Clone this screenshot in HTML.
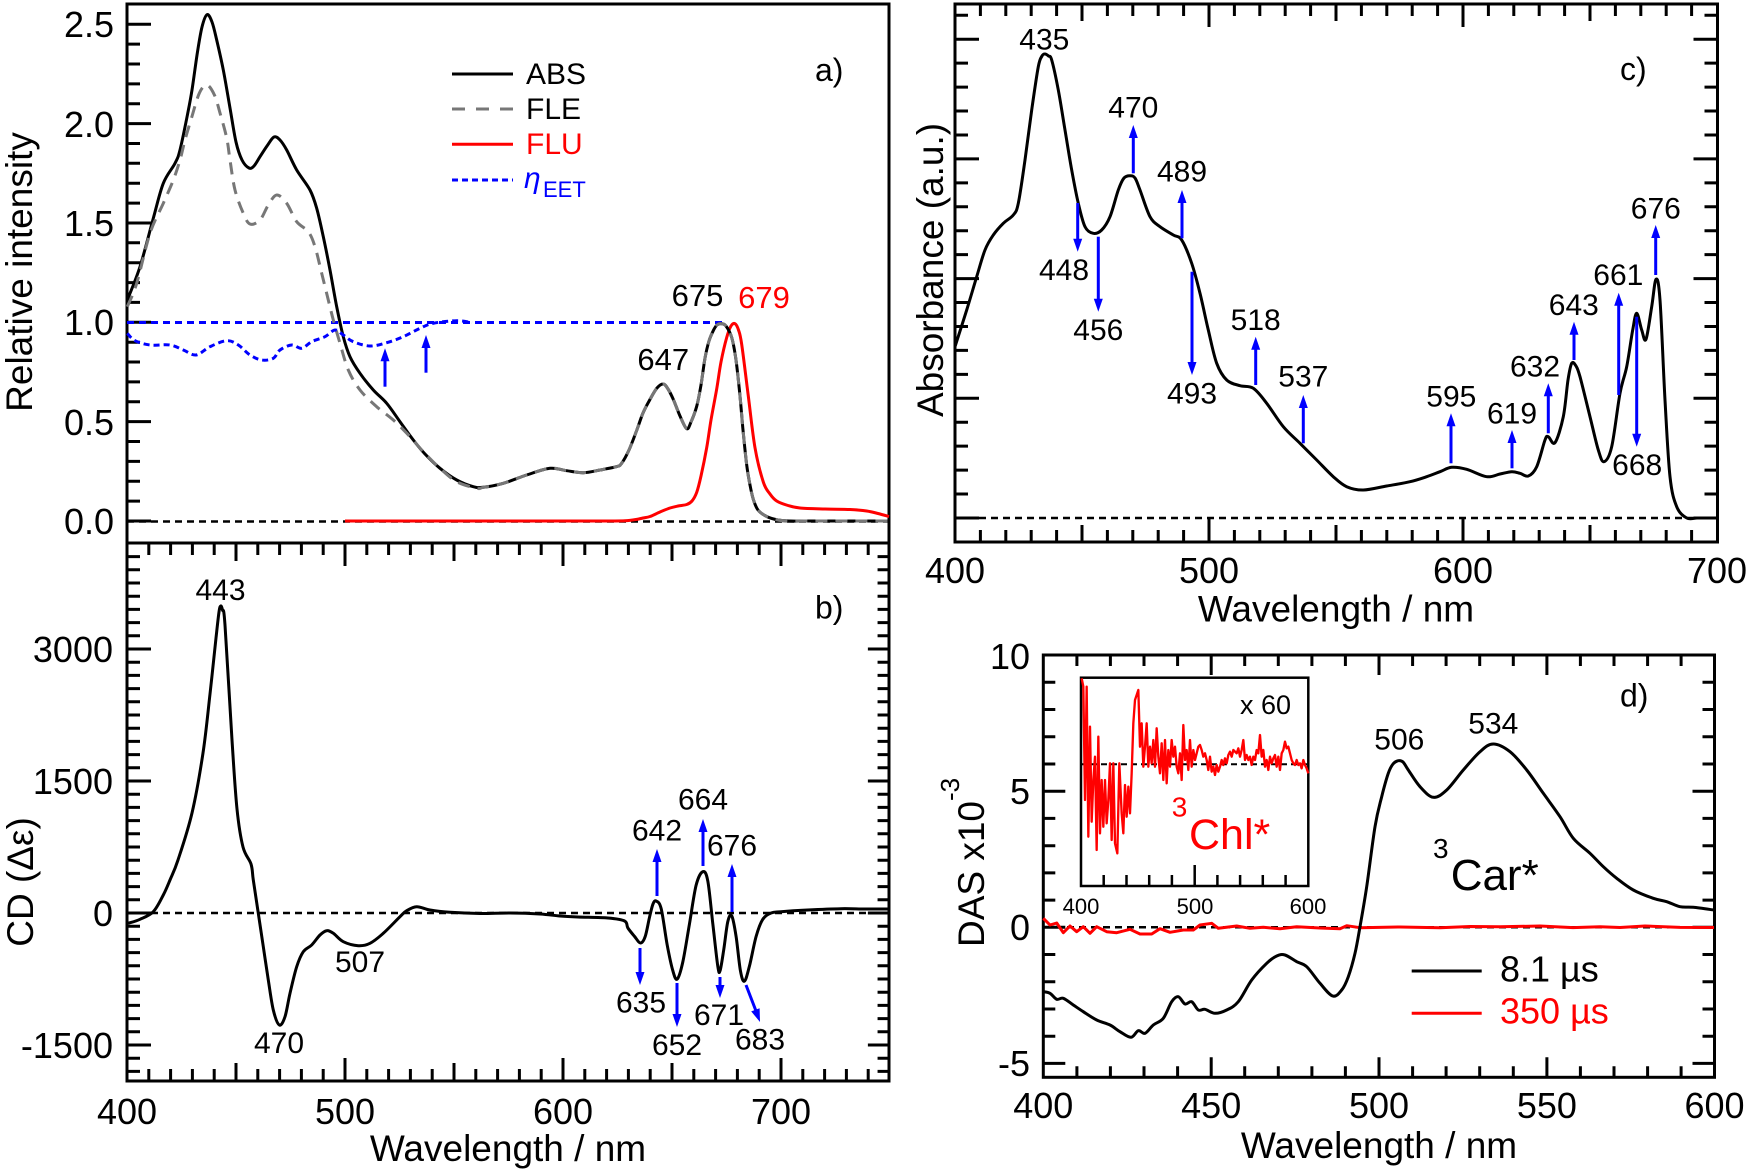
<!DOCTYPE html>
<html><head><meta charset="utf-8"><style>
html,body{margin:0;padding:0;background:#fff;}
svg{display:block;}
text{font-family:"Liberation Sans",Arial,sans-serif;fill:#000;}
</style></head><body>
<svg id="fig" width="1750" height="1171" viewBox="0 0 1750 1171" xmlns="http://www.w3.org/2000/svg">
<rect width="1750" height="1171" fill="#fff"/>
<defs>
<path id="ay" d="M0 521h24 M0 501.1h13 M0 481.3h13 M0 461.4h13 M0 441.5h13 M0 421.65h24 M0 401.8h13 M0 381.9h13 M0 362h13 M0 342.2h13 M0 322.3h24 M0 302.4h13 M0 282.6h13 M0 262.7h13 M0 242.8h13 M0 222.95h24 M0 203.1h13 M0 183.2h13 M0 163.3h13 M0 143.5h13 M0 123.6h24 M0 103.7h13 M0 83.9h13 M0 64h13 M0 44.1h13 M0 24.25h24"/>
<path id="by" d="M0 1071.4h13 M0 1058.2h13 M0 1045h24 M0 1031.8h13 M0 1018.6h13 M0 1005.4h13 M0 992.2h13 M0 979h13 M0 965.8h13 M0 952.6h13 M0 939.4h13 M0 926.2h13 M0 913h24 M0 899.8h13 M0 886.6h13 M0 873.4h13 M0 860.2h13 M0 847h13 M0 833.8h13 M0 820.6h13 M0 807.4h13 M0 794.2h13 M0 781h24 M0 767.8h13 M0 754.6h13 M0 741.4h13 M0 728.2h13 M0 715h13 M0 701.8h13 M0 688.6h13 M0 675.4h13 M0 662.2h13 M0 649h24 M0 635.8h13 M0 622.6h13 M0 609.4h13 M0 596.2h13 M0 583h13 M0 569.8h13 M0 556.6h13"/>
<path id="bx" d="M148.8 0v-12 M170.6 0v-12 M192.4 0v-12 M214.2 0v-12 M236 0v-18 M257.8 0v-12 M279.6 0v-12 M301.4 0v-12 M323.2 0v-12 M345 0v-23 M366.8 0v-12 M388.6 0v-12 M410.4 0v-12 M432.2 0v-12 M454 0v-18 M475.8 0v-12 M497.6 0v-12 M519.4 0v-12 M541.2 0v-12 M563 0v-23 M584.8 0v-12 M606.6 0v-12 M628.4 0v-12 M650.2 0v-12 M672 0v-18 M693.8 0v-12 M715.6 0v-12 M737.4 0v-12 M759.2 0v-12 M781 0v-23 M802.8 0v-12 M824.6 0v-12 M846.4 0v-12 M868.2 0v-12"/>
<path id="cx" d="M980.4 0v-12 M1005.8 0v-12 M1031.2 0v-12 M1056.6 0v-12 M1082 0v-17 M1107.4 0v-12 M1132.8 0v-12 M1158.2 0v-12 M1183.6 0v-12 M1209 0v-23 M1234.4 0v-12 M1259.8 0v-12 M1285.2 0v-12 M1310.6 0v-12 M1336 0v-17 M1361.4 0v-12 M1386.8 0v-12 M1412.2 0v-12 M1437.6 0v-12 M1463 0v-23 M1488.4 0v-12 M1513.8 0v-12 M1539.2 0v-12 M1564.6 0v-12 M1590 0v-17 M1615.4 0v-12 M1640.8 0v-12 M1666.2 0v-12 M1691.6 0v-12"/>
<path id="cy" d="M0 518h24 M0 494.06h13 M0 470.12h13 M0 446.18h13 M0 422.24h13 M0 398.3h24 M0 374.36h13 M0 350.42h13 M0 326.48h13 M0 302.54h13 M0 278.6h24 M0 254.66h13 M0 230.72h13 M0 206.78h13 M0 182.84h13 M0 158.9h24 M0 134.96h13 M0 111.02h13 M0 87.08h13 M0 63.14h13 M0 39.2h24 M0 15.26h13"/>
<path id="dx" d="M1076.9 0v-11 M1110.4 0v-11 M1144 0v-11 M1177.6 0v-11 M1211.2 0v-20 M1244.7 0v-11 M1278.3 0v-11 M1311.9 0v-11 M1345.4 0v-11 M1379 0v-20 M1412.6 0v-11 M1446.1 0v-11 M1479.7 0v-11 M1513.3 0v-11 M1546.9 0v-20 M1580.4 0v-11 M1614 0v-11 M1647.6 0v-11 M1681.1 0v-11"/>
<path id="dy" d="M0 1063.4h22 M0 1036.2h12 M0 1009h12 M0 981.7h12 M0 954.5h12 M0 927.3h22 M0 900.1h12 M0 872.9h12 M0 845.7h12 M0 818.4h12 M0 791.2h22 M0 764h12 M0 736.8h12 M0 709.5h12 M0 682.3h12"/>
</defs>

<!-- ===== Left panels a/b frame & ticks ===== -->
<g stroke="#000" stroke-width="3" fill="none">
<rect x="127" y="4" width="762" height="1077"/>
<line x1="127" y1="543" x2="889" y2="543"/>
<use href="#ay" transform="translate(127,0)"/>
<use href="#by" transform="translate(127,0)"/>
<use href="#by" transform="translate(889,0) scale(-0.88,1)"/>
<use href="#bx" transform="translate(0,1081)"/>
<use href="#bx" transform="translate(0,543) scale(1,-1)"/>
</g>
<g font-size="36" text-anchor="end">
<text x="114" y="534">0.0</text><text x="114" y="435">0.5</text><text x="114" y="335">1.0</text>
<text x="114" y="236">1.5</text><text x="114" y="137">2.0</text><text x="114" y="37">2.5</text>
<text x="113" y="662">3000</text><text x="113" y="794">1500</text><text x="113" y="926">0</text><text x="113" y="1058">-1500</text>
</g>
<g font-size="36" text-anchor="middle">
<text x="127" y="1124">400</text><text x="345" y="1124">500</text><text x="563" y="1124">600</text><text x="781" y="1124">700</text>
</g>
<text x="508" y="1161" font-size="37" text-anchor="middle">Wavelength / nm</text>
<text transform="translate(32,272) rotate(-90)" font-size="37" text-anchor="middle">Relative intensity</text>
<text transform="translate(33,882) rotate(-90)" font-size="37" text-anchor="middle">CD (Δε)</text>

<!-- panel a curves -->
<g fill="none" stroke-linejoin="round" stroke-width="3">
<line x1="127" y1="521.5" x2="889" y2="521.5" stroke="#000" stroke-width="2.5" stroke-dasharray="7 5"/>
<line x1="127" y1="322.5" x2="723" y2="322.5" stroke="#0000ff" stroke-dasharray="7 5"/>
<polyline class="sm" stroke="#ff0000" points="345,521 400,521 460,521 520,521 580,521 610,521 625,520.8 636,519.5 643,518 650,516.5 660,512 670,508 678,506 686.7,504.5 692,501 696.7,492.4 701,476 706.7,447.7 711,420 716.7,389 721,362 726.7,337.5 731,326 735,323.7 738.5,330 741.7,344.4 748.3,396 755,447.7 763.3,482 770,494 776.7,501 788,505.5 800,508 825,509 850,509.5 866.7,511 878,513.5 889,516.5"/>
<polyline class="sm" stroke="#000" points="127.3,300 140,266.7 153.3,218.3 163.3,183.3 175,163.3 180,150 187.6,114 192,90 197.4,52.5 202,27 207,14.7 212,22 216.7,40 223.3,70 230,108 236,142 242,160 249,168 254,166 260,156.7 267,146 274,137 280,140 286.7,150 296.7,170 310,190 316.7,208.3 323.3,236.7 330,270 336.7,306.7 343.3,336.7 350,356.7 360,373.3 373.3,390 386.7,403.3 400,421.7 413.3,440 425,454 440,468.3 456.7,480 473.3,486.7 483.3,487.3 503.3,483.3 526.7,475 550,468.3 566.7,470.7 583.3,472.7 600,470 616.7,466.6 621.7,463.2 629,450 636.7,430.4 643,413 650,399.4 657,388 663.3,384 668,389 673.3,399.4 680,416 686.7,428.7 691,422 696.7,406.3 701,385 705,358.1 709,341 713.3,330.6 717,325 721.7,323.7 726,326 731.7,337.5 736,360 740,396 743,430 746.7,464.9 750,485 753.3,499.3 758,510 766.7,516.5 778,520 790,521 805,521 825,521 845,521 865,521 889,521"/>
<polyline class="sm" stroke="#777" stroke-dasharray="12 8" points="127.3,306.7 136.7,283.3 150,233.3 163.3,203.3 173.3,180 180,160 185,140 191.5,118 199.4,93 207,85 214.6,95.4 220,113 226.7,138 230,160 235,190 243.3,213.3 250,224 260,220 268.3,205 276.7,195 286.7,203.3 296.7,221.7 308.3,231.7 315,246.7 321.7,273.3 328.3,300 333.3,320 340,343.3 348.3,370 360,390 376.7,406.7 393.3,420 410,436.7 423.3,451.7 440,468.3 456.7,481.7 476.7,488.3 483.3,487.3 503.3,483.3 526.7,475 550,468.3 566.7,470.7 583.3,472.7 600,470 616.7,466.6 621.7,463.2 629,450 636.7,430.4 643,413 650,399.4 657,388 663.3,384 668,389 673.3,399.4 680,416 686.7,428.7 691,422 696.7,406.3 701,385 705,358.1 709,341 713.3,330.6 717,325 721.7,323.7 726,326 731.7,337.5 736,360 740,396 743,430 746.7,464.9 750,485 753.3,499.3 758,510 766.7,516.5 778,520 790,521 805,521 825,521 845,521 865,521 889,521"/>
<polyline class="sm" stroke="#0000ff" stroke-dasharray="6 4" points="127.3,333.3 135,340.7 150,345 170,345 183.3,350 196,355 210,346.7 226.7,340.7 238.3,345 250,355 261.7,360 273.3,358.3 280,350 291.7,345 301.7,348.3 311.7,341.7 325,336.7 335,330 343.3,335 353.3,341.7 370,346 386.7,342.7 403.3,336.7 420,328.3 433.3,323.3 456.7,320.7 472,322.7"/>
</g>
<g stroke="#0000ff" stroke-width="3" fill="#0000ff">
<line x1="385" y1="386.7" x2="385" y2="360"/><polygon stroke="none" points="385,348.3 380.5,361.3 389.5,361.3"/>
<line x1="426" y1="372.7" x2="426" y2="347"/><polygon stroke="none" points="426,335 421.5,348 430.5,348"/>
</g>
<!-- legend a -->
<g stroke-width="3" fill="none">
<line x1="452" y1="74" x2="513" y2="74" stroke="#000"/>
<line x1="452" y1="109" x2="513" y2="109" stroke="#777" stroke-dasharray="13 11"/>
<line x1="452" y1="144.3" x2="513" y2="144.3" stroke="#ff0000"/>
<line x1="452" y1="180" x2="513" y2="180" stroke="#0000ff" stroke-dasharray="6 4"/>
</g>
<g font-size="30">
<text x="526" y="84">ABS</text>
<text x="526" y="119">FLE</text>
<text x="526" y="154" style="fill:#ff0000">FLU</text>
<text x="524" y="188" font-style="italic" style="fill:#0000ff">η</text>
<text x="543" y="197" font-size="22" style="fill:#0000ff">EET</text>
<text x="815" y="81" font-size="32">a)</text>
</g>
<g font-size="31" text-anchor="middle">
<text x="663.3" y="370">647</text>
<text x="697.5" y="306">675</text>
<text x="764" y="308" style="fill:#ff0000">679</text>
</g>

<!-- panel b curve -->
<g fill="none" stroke-linejoin="round" stroke-width="3">
<line x1="127" y1="913" x2="889" y2="913" stroke="#000" stroke-width="2.5" stroke-dasharray="7 5"/>
<polyline class="sm" stroke="#000" points="128.3,923.3 140,919.3 153.3,911.7 163.3,895 170,880 178,860 192,813 203,753 210,694 216,638 219,612 220.7,606 222.5,610 225,625 232,740 237,809 243,847 251,864 253.3,880 258.3,913.3 263.3,946.7 268.3,980 273.3,1010 279.3,1025 285,1016.7 290,993.3 296.7,966.7 303.3,951.7 311.7,945 320,935 326.7,930.7 333.3,933.3 343.3,941.7 358.3,945.7 370,943.3 383.3,933.3 400,916.7 406.7,910.7 416.7,906.7 430,910 450,912.3 480,913.5 510,913 540,914 560,916 578,917 608,918 624.6,921 627.9,928 634.6,936.5 640.5,943 645.2,936.5 649.5,917.3 653,904 656.2,901.1 661.2,908.8 667.2,945 672.8,970.6 677.2,979.1 682.8,962 689.5,923.7 696.1,885.3 702.8,871.7 707.8,881 712.8,923.7 717.8,966.3 720.1,970.6 723.8,949.3 727.8,921.6 731.8,916 736.1,936.5 740.4,970.6 744.4,981.2 749.4,966.3 756.1,936.5 762.7,919.4 771.1,913 781,911.7 807.6,910 840.9,908.7 865,909 889,909"/>
</g>
<g stroke="#0000ff" stroke-width="3" fill="#0000ff">
<line x1="657" y1="896" x2="657" y2="861"/><polygon stroke="none" points="657,849 652.5,862 661.5,862"/>
<line x1="703" y1="866" x2="703" y2="831"/><polygon stroke="none" points="703,819 698.5,832 707.5,832"/>
<line x1="732" y1="912" x2="732" y2="876"/><polygon stroke="none" points="732,864 727.5,877 736.5,877"/>
<line x1="640" y1="948" x2="640" y2="973"/><polygon stroke="none" points="640,985 635.5,972 644.5,972"/>
<line x1="677" y1="983" x2="677" y2="1015"/><polygon stroke="none" points="677,1027 672.5,1014 681.5,1014"/>
<line x1="720" y1="977" x2="720" y2="987"/><polygon stroke="none" points="720,998 715.5,985 724.5,985"/>
<line x1="746" y1="985" x2="756" y2="1011"/><polygon stroke="none" points="760,1022 751.2,1011.4 759.6,1008.2"/>
</g>
<g font-size="30" text-anchor="middle">
<text x="220.5" y="600">443</text>
<text x="279" y="1053">470</text>
<text x="360" y="972">507</text>
<text x="657" y="840.6">642</text>
<text x="703" y="809.4">664</text>
<text x="732" y="855.5">676</text>
<text x="641" y="1012.4">635</text>
<text x="677" y="1055">652</text>
<text x="719" y="1025">671</text>
<text x="760" y="1049.4">683</text>
</g>
<text x="815" y="618.3" font-size="32">b)</text>

<!-- ===== Panel c ===== -->
<g stroke="#000" stroke-width="3" fill="none">
<rect x="955" y="4" width="762.5" height="538"/>
<use href="#cx" transform="translate(0,542)"/>
<use href="#cx" transform="translate(0,4) scale(1,-1)"/>
<use href="#cy" transform="translate(955,0)"/>
<use href="#cy" transform="translate(1717.5,0) scale(-1,1)"/>
</g>
<g font-size="36" text-anchor="middle">
<text x="955" y="583">400</text><text x="1209" y="583">500</text><text x="1463" y="583">600</text><text x="1717" y="583">700</text>
</g>
<text x="1336" y="621.7" font-size="37" text-anchor="middle">Wavelength / nm</text>
<text transform="translate(943,270) rotate(-90)" font-size="37" text-anchor="middle">Absorbance (a.u.)</text>
<g fill="none" stroke-linejoin="round" stroke-width="3">
<line x1="955" y1="518" x2="1717" y2="518" stroke="#000" stroke-width="2.5" stroke-dasharray="7 5"/>
<polyline class="sm" stroke="#000" points="955,346.7 966.7,310 976.7,276.7 985,250 993.3,235 1003.3,223.3 1013.3,215 1018.3,203.3 1025,160 1031.7,110 1038.3,66.7 1042,56 1045,54 1048.5,56 1051.7,60 1058.3,90 1065,130 1071.7,170 1078.3,203.3 1085,226.7 1093.3,233.3 1101.7,230 1110,216.7 1118.3,190 1124,178 1130,175.7 1135,178 1140,190 1150,216.7 1160,226.7 1173.3,235 1181.7,240 1191.7,263.3 1200,293.3 1208.3,330 1216.7,363.3 1226.7,380 1240,385.7 1253.3,388.3 1266.7,403.3 1283.3,426.7 1300,443.3 1316.7,460 1333.3,476.7 1346.7,486.7 1363.3,490 1386.7,486 1410,481.7 1426.7,476.7 1440,471.7 1451.7,467.3 1466.7,469.3 1486.7,476.7 1500,474 1511.7,471.7 1520,473.3 1528.3,476 1536.7,466.7 1545,440 1548.3,436.7 1555,442.7 1563.3,416.7 1568,380 1571.7,363.3 1576,366 1580,376.7 1590,416.7 1598.3,450 1604,461.7 1611.7,446.7 1620,393.3 1626.7,366.7 1632.7,330 1636.7,313.3 1641.7,330 1646,339.3 1651.7,306.7 1656,279.3 1660,300 1665,400 1670,476.7 1676.7,506.7 1686.7,518 1697,518 1707,518 1717,518"/>
</g>
<g stroke="#0000ff" stroke-width="3" fill="#0000ff">
<line x1="1077.7" y1="203" x2="1077.7" y2="240"/><polygon stroke="none" points="1077.7,251.7 1073.2,238.7 1082.2,238.7"/>
<line x1="1098.3" y1="236.7" x2="1098.3" y2="300"/><polygon stroke="none" points="1098.3,311.7 1093.8,298.7 1102.8,298.7"/>
<line x1="1133.3" y1="173.3" x2="1133.3" y2="137"/><polygon stroke="none" points="1133.3,125 1128.8,138 1137.8,138"/>
<line x1="1182" y1="238.3" x2="1182" y2="202"/><polygon stroke="none" points="1182,190 1177.5,203 1186.5,203"/>
<line x1="1192" y1="271.7" x2="1192" y2="363"/><polygon stroke="none" points="1192,375 1187.5,362 1196.5,362"/>
<line x1="1255.7" y1="385" x2="1255.7" y2="348.7"/><polygon stroke="none" points="1255.7,336.7 1251.2,349.7 1260.2,349.7"/>
<line x1="1303.3" y1="443.3" x2="1303.3" y2="407"/><polygon stroke="none" points="1303.3,395 1298.8,408 1307.8,408"/>
<line x1="1451" y1="463.3" x2="1451" y2="425.3"/><polygon stroke="none" points="1451,413.3 1446.5,426.3 1455.5,426.3"/>
<line x1="1512" y1="468.3" x2="1512" y2="442"/><polygon stroke="none" points="1512,430 1507.5,443 1516.5,443"/>
<line x1="1548.3" y1="433.3" x2="1548.3" y2="395.3"/><polygon stroke="none" points="1548.3,383.3 1543.8,396.3 1552.8,396.3"/>
<line x1="1574" y1="360" x2="1574" y2="333.7"/><polygon stroke="none" points="1574,321.7 1569.5,334.7 1578.5,334.7"/>
<line x1="1618.7" y1="395" x2="1618.7" y2="304.7"/><polygon stroke="none" points="1618.7,292.7 1614.2,305.7 1623.2,305.7"/>
<line x1="1636.7" y1="316.7" x2="1636.7" y2="434.7"/><polygon stroke="none" points="1636.7,446.7 1632.2,433.7 1641.2,433.7"/>
<line x1="1655.7" y1="275" x2="1655.7" y2="237"/><polygon stroke="none" points="1655.7,225 1651.2,238 1660.2,238"/>
</g>
<g font-size="30" text-anchor="middle">
<text x="1044.3" y="49.3">435</text>
<text x="1133.3" y="117.3">470</text>
<text x="1182" y="181.7">489</text>
<text x="1064" y="280">448</text>
<text x="1098.3" y="340">456</text>
<text x="1192" y="403.3">493</text>
<text x="1255.7" y="330">518</text>
<text x="1303.3" y="386.7">537</text>
<text x="1451.3" y="406.7">595</text>
<text x="1512" y="423.3">619</text>
<text x="1535" y="376.7">632</text>
<text x="1573.8" y="315">643</text>
<text x="1618.3" y="285">661</text>
<text x="1637.2" y="475">668</text>
<text x="1655.8" y="218.3">676</text>
</g>
<text x="1620" y="80" font-size="32">c)</text>

<!-- ===== Panel d ===== -->
<g stroke="#000" stroke-width="3" fill="none">
<rect x="1043.3" y="655" width="671.2" height="422.3"/>
<use href="#dx" transform="translate(0,1077.3)"/>
<use href="#dx" transform="translate(0,655) scale(1,-1)"/>
<use href="#dy" transform="translate(1043.3,0)"/>
<use href="#dy" transform="translate(1714.5,0) scale(-1,1)"/>
</g>
<g font-size="36" text-anchor="end">
<text x="1030" y="669">10</text><text x="1030" y="804">5</text><text x="1030" y="940">0</text><text x="1030" y="1076">-5</text>
</g>
<g font-size="36" text-anchor="middle">
<text x="1043.3" y="1118">400</text><text x="1211.2" y="1118">450</text><text x="1379" y="1118">500</text><text x="1546.9" y="1118">550</text><text x="1714.5" y="1118">600</text>
</g>
<text x="1379" y="1158" font-size="37" text-anchor="middle">Wavelength / nm</text>
<text transform="translate(984,947) rotate(-90)" font-size="37">DAS x10<tspan font-size="26" dy="-25">-3</tspan></text>
<g fill="none" stroke-linejoin="round" stroke-width="3">
<line x1="1043" y1="927.3" x2="1714" y2="927.3" stroke="#000" stroke-width="2.5" stroke-dasharray="7 5"/>
<polyline stroke="#ff0000" points="1043.3,918.3 1050,925 1056.7,923 1063.3,932.7 1070,926 1076.7,931.7 1083.3,926.7 1090,933.3 1096.7,926.7 1106.7,931.7 1116.7,932.7 1130,929.3 1140,934 1151.7,934 1160,928.7 1170,932.3 1183.3,930 1193.3,930 1200,925 1211.7,923.3 1218.3,928.3 1236.7,926 1250,928.3 1263.3,927.3 1280,928.7 1296.7,926.7 1320,928 1340,928.7 1346.7,925.7 1360,927.7 1400,927 1440,927.8 1470,926.5 1500,926.8 1540,926 1573,927.6 1600,926.8 1620,927.5 1645,926 1680,927.4 1714,927.5"/>
<polyline class="sm" stroke="#000" points="1043.3,991.7 1050,993.3 1056.7,999.3 1063.3,998.3 1073.3,1005 1083.3,1011.7 1096.7,1020 1110,1025 1120,1031.7 1131,1037.3 1138.3,1030.7 1145,1033.3 1153.3,1025 1163.3,1018.3 1171.7,1001.7 1178.3,996.7 1185,1004 1191.7,1001.7 1198.3,1010 1205,1009.3 1215,1013.3 1226.7,1010 1238.3,1001.7 1251.7,980 1266.7,963.3 1276.7,956 1285,955 1296.7,961.7 1306.7,966.7 1320,983.3 1332.7,996 1341.7,990 1348.3,976.7 1355,953.3 1360,926.7 1366.7,886.7 1375,826.7 1381.7,796.7 1388.3,773.3 1393,764 1398.3,760.7 1403,762 1408.3,770 1420,786.7 1433.3,797.3 1446.7,790 1463.3,770 1480,751.7 1493.3,744 1510,751.7 1526.7,770 1543.3,793.3 1560,816.7 1573.3,838.3 1590,853.3 1603.3,866.7 1616.7,878.3 1633.3,890 1653.3,898.3 1666.7,901.7 1680,906.7 1693.3,907.3 1714,910"/>
</g>
<!-- legend d -->
<line x1="1411.7" y1="971" x2="1481.7" y2="971" stroke="#000" stroke-width="3"/>
<line x1="1411.7" y1="1013.3" x2="1481.7" y2="1013.3" stroke="#ff0000" stroke-width="3"/>
<text x="1500" y="981.7" font-size="36">8.1 µs</text>
<text x="1500" y="1023.3" font-size="36" style="fill:#ff0000">350 µs</text>
<g font-size="30" text-anchor="middle">
<text x="1399.3" y="749.3">506</text>
<text x="1493.3" y="733.3">534</text>
</g>
<text x="1433" y="858" font-size="28">3</text>
<text x="1450.7" y="890" font-size="44">Car*</text>
<text x="1620" y="706.7" font-size="32">d)</text>

<!-- inset -->
<rect x="1081" y="677.7" width="227.3" height="208.3" fill="#fff" stroke="#000" stroke-width="2.5"/>
<path d="M1103.7 886v-11 M1126.5 886v-11 M1149.2 886v-11 M1171.9 886v-11 M1194.7 886v-21 M1217.4 886v-11 M1240.1 886v-11 M1262.8 886v-11 M1285.6 886v-11" stroke="#000" stroke-width="2.5" fill="none"/>
<line x1="1081" y1="764.3" x2="1308" y2="764.3" stroke="#000" stroke-width="2" stroke-dasharray="6 4"/>
<g transform="translate(1030,640) scale(0.33333)">
<polyline fill="none" stroke="#ff0000" stroke-width="7" stroke-linejoin="round" points="155,115 160,140 165,480 170,140 175,590 180,260 185,545 190,420 195,350 200,630 205,290 210,580 215,420 220,560 225,420 230,550 235,480 240,370 245,600 250,370 255,610 262,640 268,370 275,520 280,580 285,435 290,530 295,440 300,520 305,400 310,250 315,180 320,165 325,150 330,320 335,250 340,380 345,320 350,250 355,380 360,320 365,370 370,300 375,380 380,265 385,350 390,400 395,310 400,420 405,300 410,430 415,330 420,380 425,300 430,350 435,320 440,380 445,400 450,340 455,420 460,255 465,360 470,330 475,390 480,300 485,380 490,330 495,360 500,340 505,320 510,315 515,330 520,350 525,340 530,360 535,390 540,350 545,395 550,380 555,405 560,375 565,395 570,380 575,360 580,375 585,355 590,370 595,345 600,335 605,350 610,330 620,340 625,325 630,350 635,330 640,300 645,360 650,345 655,360 660,350 665,375 670,350 675,360 680,330 685,340 690,285 695,350 700,330 705,380 710,360 715,390 720,350 725,370 730,355 735,345 740,380 745,350 750,390 755,340 760,330 765,305 770,325 775,320 780,340 785,360 790,370 795,375 800,360 805,375 810,370 815,385 820,360 825,375 830,385 835,400"/>
</g>
<text x="1240" y="714" font-size="27">x 60</text>
<text x="1171.7" y="816.7" font-size="28" style="fill:#ff0000">3</text>
<text x="1189" y="849" font-size="43" style="fill:#ff0000">Chl*</text>
<g font-size="22" text-anchor="middle">
<text x="1081" y="914">400</text><text x="1195" y="914">500</text><text x="1308" y="914">600</text>
</g>
</svg>
<script>
(function(){
try{
var NS="http://www.w3.org/2000/svg";
var pls=document.querySelectorAll("polyline.sm");
for(var k=0;k<pls.length;k++){
var pl=pls[k];
var raw=pl.getAttribute("points").trim().split(/\s+/);
var p=[];
for(var i=0;i<raw.length;i++){var c=raw[i].split(",");p.push([parseFloat(c[0]),parseFloat(c[1])]);}
if(p.length<3)continue;
var d="M"+p[0][0]+" "+p[0][1];
for(var i=0;i<p.length-1;i++){
var p0=p[i>0?i-1:i],p1=p[i],p2=p[i+1],p3=p[i+2<p.length?i+2:i+1];
var c1x=p1[0]+(p2[0]-p0[0])/6,c1y=p1[1]+(p2[1]-p0[1])/6;
var c2x=p2[0]-(p3[0]-p1[0])/6,c2y=p2[1]-(p3[1]-p1[1])/6;
d+=" C"+c1x.toFixed(2)+" "+c1y.toFixed(2)+" "+c2x.toFixed(2)+" "+c2y.toFixed(2)+" "+p2[0]+" "+p2[1];
}
var path=document.createElementNS(NS,"path");
for(var a=0;a<pl.attributes.length;a++){var at=pl.attributes[a];if(at.name!=="points"&&at.name!=="class")path.setAttribute(at.name,at.value);}
path.setAttribute("d",d);
path.setAttribute("fill","none");
pl.parentNode.replaceChild(path,pl);
}
}catch(e){}
})();
</script>
</body></html>
